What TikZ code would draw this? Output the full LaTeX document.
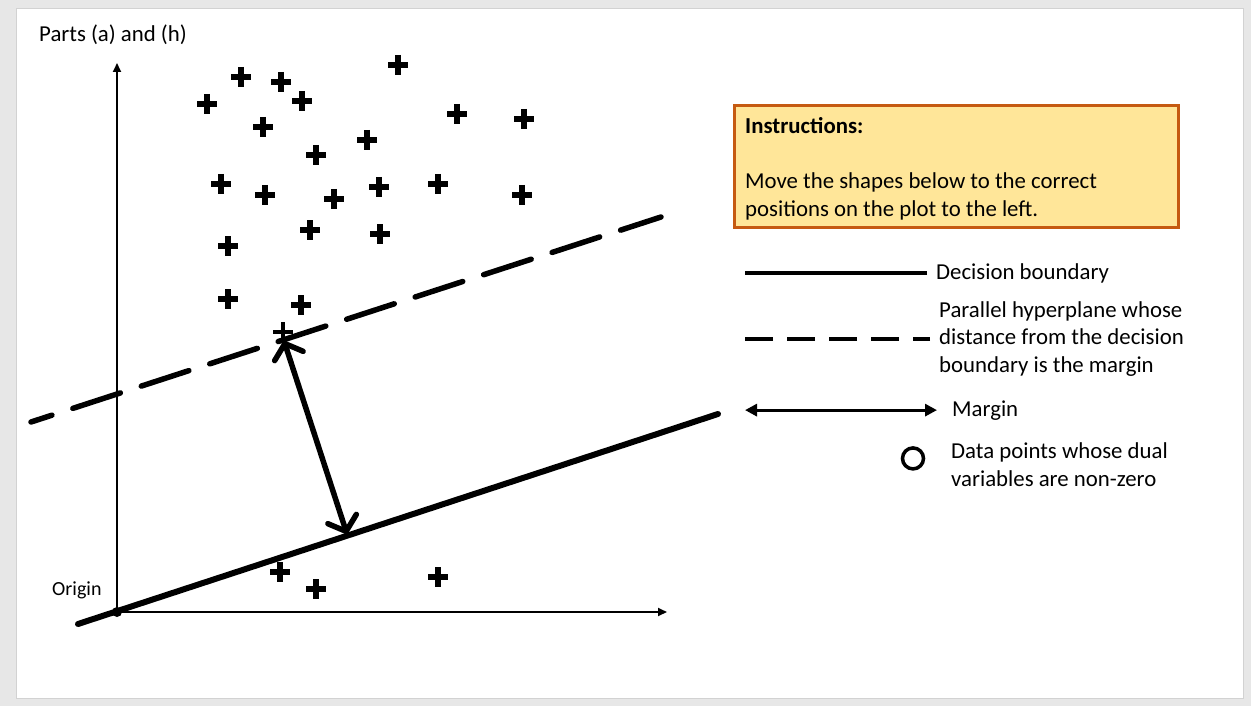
\documentclass[tikz,border=0pt]{standalone}
\usepackage{fontspec}
\setmainfont{Carlito}
\usetikzlibrary{arrows.meta, calc}
\definecolor{SlideGray}{RGB}{231,231,231}
\definecolor{EdgeGray}{RGB}{210,210,210}
\definecolor{NoteFill}{HTML}{FFE699}
\definecolor{NoteEdge}{HTML}{C55A11}
\NewDocumentCommand{\DrawPlus}{O{6pt} m}{
    \draw[line width=#1] (#2) ++(-10,0) -- ++(20,0);
    \draw[line width=#1] (#2) ++(0,-10) -- ++(0,20);
}
\tikzset{
    label text/.style={font=\fontsize{22.8}{27.5}\selectfont, inner sep=0pt, anchor=base west, align=left},
    axis line/.style={line width=2pt, -{Triangle[length=9pt, width=8pt]}},
    boundary line/.style={line width=6pt, line cap=round},
    hyperplane line/.style={line width=5.5pt, line cap=round, dash pattern=on 50pt off 22pt},
    margin arrow/.style={line width=5.5pt, {Straight Barb[length=13pt, width=30pt, round]}-{Straight Barb[length=13pt, width=30pt, round]}}
}
\begin{document}
\begin{tikzpicture}[x=1pt, y=-1pt]

    \useasboundingbox (0,0) rectangle (1251,706);
    \fill[SlideGray] (0,0) rectangle (1251,706);
    \draw[EdgeGray, fill=white] (16,8) rectangle (1243,698);

    \node[label text] (title) at (39,42) {Parts (a) and (h)};

    % plot
    \coordinate (origin) at (117,612);
    \draw[axis line] (origin) -- (117,63);
    \draw[axis line] (origin) -- (667,612);
    \fill (origin) circle (5);
    \node[label text, font=\fontsize{20}{24}\selectfont] (originlabel) at (52,595) {Origin};

    \coordinate (db1) at (78,624);
    \coordinate (db2) at (718,414);
    \coordinate (hp1) at (31,422);
    \coordinate (hp2) at (661,217);
    \draw[hyperplane line, dash phase=28pt] (hp1) -- (hp2);
    \draw[boundary line] (db1) -- (db2);

    \foreach \px/\py in {241/77, 281/82, 302/101, 207/104, 398/65, 457/114, 524/119,
        263/127, 367/140, 316/155, 221/184, 265/195, 334/199, 379/187, 438/184,
        522/195, 310/230, 380/234, 228/246, 228/299, 301/305, 280/572, 316/589, 438/577} {
        \DrawPlus{\px,\py}
    }
    \DrawPlus[3.5pt]{283,332}

    \coordinate (svtop) at (284,341);
    \coordinate (svbottom) at (347,534);
    \draw[margin arrow] (svtop) -- (svbottom);

    % instructions
    \draw[NoteEdge, fill=NoteFill, line width=3pt] (734,106) rectangle (1178,227);
    \node[label text] (notehead) at (745,134) {\bfseries Instructions:};
    \node[label text] (notebody) at (745,216) {Move the shapes below to the correct\\positions on the plot to the left.};

    % legend
    \node[label text] (legboundary) at (936,279) {Decision boundary};
    \draw[line width=3.5pt] ([xshift=-9pt]legboundary.west) -- ++(-182,0);

    \node[label text] (leghyperplane) at (939,372) {Parallel hyperplane whose\\distance from the decision\\boundary is the margin};
    \draw[line width=4pt, dash pattern=on 28pt off 14pt, dash phase=11pt]
        ([xshift=-9pt]leghyperplane.west) -- ++(-185,0);

    \node[label text] (legmargin) at (952,416) {Margin};
    \draw[line width=3pt, {Triangle[length=12pt, width=12pt]}-{Triangle[length=12pt, width=12pt]}]
        ([xshift=-15pt]legmargin.west) -- ++(-192,0);

    \node[label text] (legdual) at (951,486) {Data points whose dual\\variables are non-zero};
    \draw[line width=3.5pt] ([xshift=-38pt, yshift=6pt]legdual.west) circle (10.5);

\end{tikzpicture}
\end{document}
